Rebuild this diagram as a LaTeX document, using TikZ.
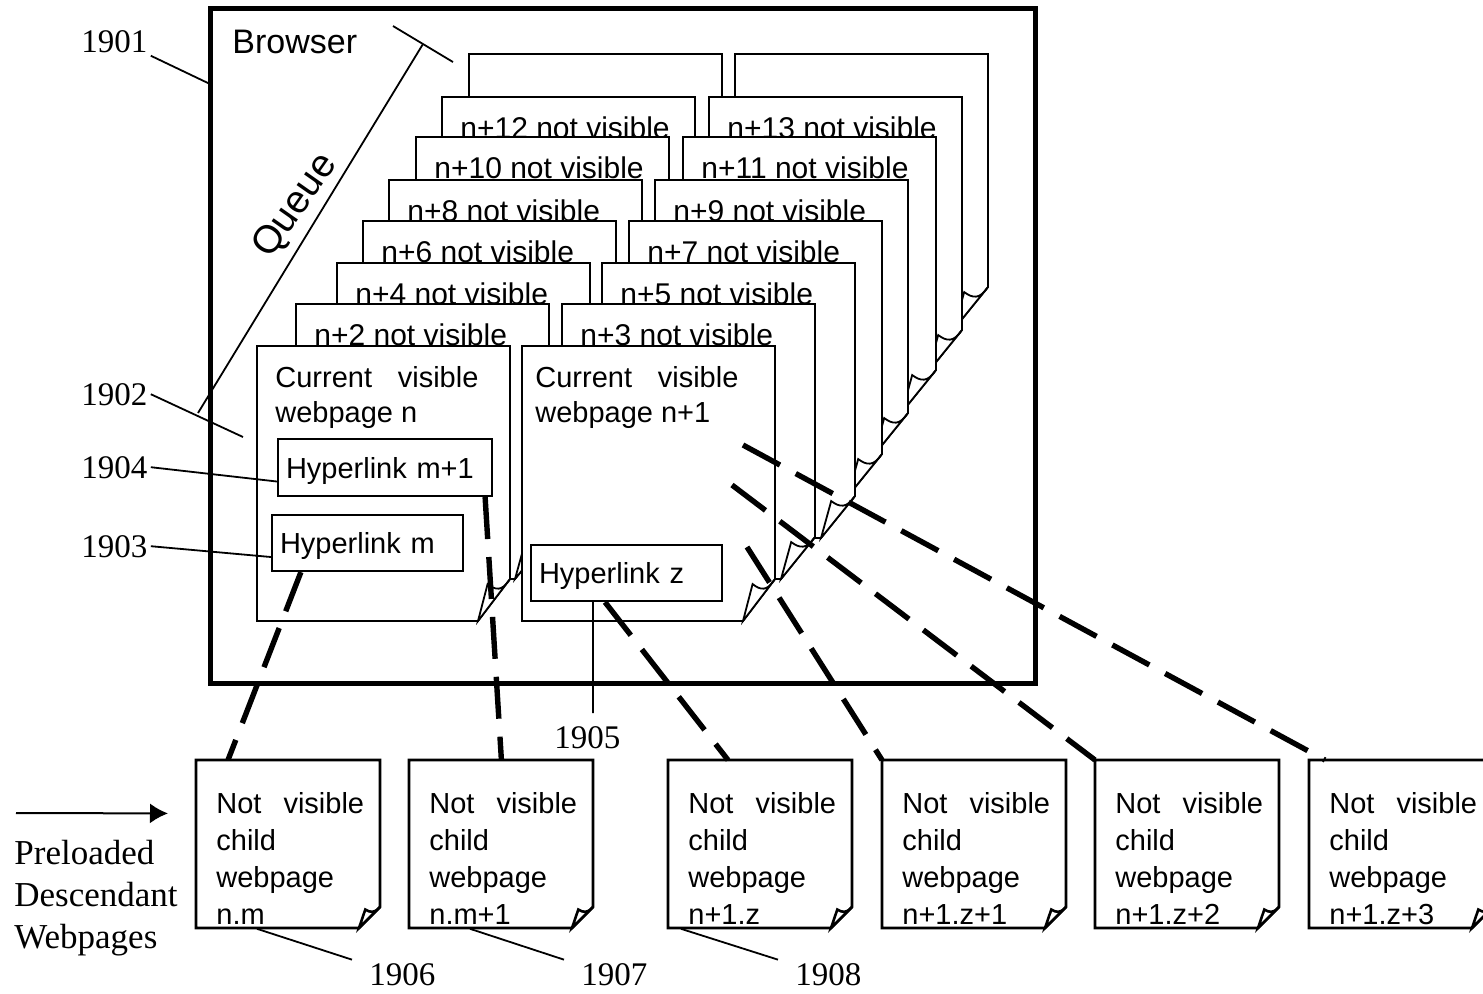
\documentclass[tikz,border=0pt]{standalone}
\usepackage{fontspec}
\setmainfont{Liberation Sans}
\newfontfamily\serifnum{Liberation Serif}
\usetikzlibrary{arrows.meta}

% page outline with curled corner: [style] left, top, width, height, fold x, fold y
\newcommand{\docpage}[7][]{%
  \filldraw[pageline,#1] (#2,#3) -- (#2+#4,#3) -- (#2+#4,#3+#5-#7)
    -- (#2+#4-#6,#3+#5) -- (#2,#3+#5) -- cycle;
  \filldraw[pageline,#1] (#2+#4,#3+#5-#7)
    .. controls +(-0.25*#6,0.3*#7) and +(0.25*#6,0.15*#7) .. (#2+#4-0.7*#6,#3+#5-0.88*#7)
    -- (#2+#4-#6,#3+#5) -- cycle;}

% child webpage: name, left, text
\newcommand{\childpage}[3]{%
  \node[childbox] (#1) at (#2,760) {};
  \docpage[line width=1.3pt]{#2}{760}{184}{168}{21}{21}
  \node[bodytext,font=\fontsize{14.5}{18.5}\selectfont] (#1 text) at (#2+20,792) {#3};}

\begin{document}
\begin{tikzpicture}[x=0.5pt,y=-0.5pt,
  pageline/.style={draw,fill=white,line width=0.9pt},
  pagetext/.style={anchor=base west,inner sep=0pt,font=\fontsize{15}{18}\selectfont},
  bodytext/.style={anchor=north west,inner sep=0pt,align=left},
  linkbox/.style={draw,line width=1.1pt,minimum height=28pt,inner xsep=4pt,
    text depth=0pt,align=left,font=\fontsize{14.5}{17}\selectfont},
  childbox/.style={anchor=north west,minimum width=92pt,minimum height=84pt,inner sep=0pt},
  numlabel/.style={anchor=base west,inner sep=1.5pt,font=\serifnum\fontsize{16.5}{20}\selectfont},
  leader/.style={line width=0.9pt},
  childlink/.style={line width=2.7pt,dash pattern=on 21pt off 9pt},
  ]
\useasboundingbox (0,0) rectangle (1483,993);

% Browser window
\node[draw,line width=2.5pt,anchor=north west,outer sep=0pt,inner sep=0pt,
  minimum width=412.5pt,minimum height=337.5pt] (browser) at (210,8) {};
\node[anchor=base west,inner sep=0pt,font=\fontsize{17}{20}\selectfont]
  (browser label) at (232,53) {Browser};

% Queue bracket
\coordinate (queue low) at (198,413);
\coordinate (queue high) at (423,44);
\draw[leader] (queue low) -- (queue high);
\draw[leader] (393,26) -- (453,62);
\node[rotate=55,anchor=base,inner sep=0pt,font=\fontsize{19.5}{23}\selectfont]
  (queue label) at (304,212) {Queue};

% Queued pages (back to front)
\docpage{469}{54}{253}{275}{34}{42}
\docpage{735}{54}{253}{275}{34}{42}
\foreach \lx/\rgx/\ty/\lnum/\rnum in {442/709/97/12/13,416/683/137/10/11,
    389/655/180/8/9,363/629/221/6/7,337/602/263/4/5,296/562/304/2/3}{
  \docpage{\lx}{\ty}{253}{275}{34}{42}
  \node[pagetext] (queue \lnum) at (\lx+18,\ty+41) {n+\lnum\ not visible};
  \docpage{\rgx}{\ty}{253}{275}{34}{42}
  \node[pagetext] (queue \rnum) at (\rgx+18,\ty+41) {n+\rnum\ not visible};
}

% Current visible pages
\docpage{257}{346}{253}{275}{32}{42}
\node[bodytext,font=\fontsize{14.5}{17.5}\selectfont] (page n) at (275,366)
  {Current\hspace{0.89em}visible\\webpage n};
\docpage{522}{346}{253}{275}{32}{42}
\node[bodytext,font=\fontsize{14.5}{17.5}\selectfont] (page n1) at (535,366)
  {Current\hspace{0.89em}visible\\webpage n+1};

% Hyperlinks
\node[linkbox,text width=99pt,minimum height=28.5pt] (hm1) at (385,467.5) {Hyperlink m+1};
\node[linkbox,text width=87.5pt] (hm) at (367.5,543) {Hyperlink m};
\node[linkbox,text width=87.5pt] (hz) at (626.5,573) {Hyperlink z};
\coordinate (link z1) at (747,547);
\coordinate (link z2) at (732,485);
\coordinate (link z3) at (743,445);
\coordinate (page n tag) at (243,437);

% Preloaded child pages
\childpage{c1}{196}{Not\hspace{0.76em}visible\\child\\webpage\\n.m}
\childpage{c2}{409}{Not\hspace{0.76em}visible\\child\\webpage\\n.m+1}
\childpage{c3}{668}{Not\hspace{0.76em}visible\\child\\webpage\\n+1.z}
\childpage{c4}{882}{Not\hspace{0.76em}visible\\child\\webpage\\n+1.z+1}
\childpage{c5}{1095}{Not\hspace{0.76em}visible\\child\\webpage\\n+1.z+2}
\childpage{c6}{1309}{Not\hspace{0.76em}visible\\child\\webpage\\n+1.z+3}

\node[bodytext,font=\serifnum\fontsize{17.5}{21}\selectfont] (preloaded) at (14,840)
  {Preloaded\\Descendant\\Webpages};
\coordinate (arrow tail) at (16,813);
\draw[line width=1pt,-{Latex[length=9pt,width=10pt]}] (arrow tail)
  -- ([xshift=-14pt,yshift=15.5pt]c1.west);

% Reference numerals
\node[numlabel] (l1901) at (78,52) {1901};
\node[numlabel] (l1902) at (78,405) {1902};
\node[numlabel] (l1904) at (78,478) {1904};
\node[numlabel] (l1903) at (78,557) {1903};
\node[numlabel] (l1905) at (551,748) {1905};
\node[numlabel] (l1906) at (366,985) {1906};
\node[numlabel] (l1907) at (578,985) {1907};
\node[numlabel] (l1908) at (792,985) {1908};

\draw[leader]
  (l1901.south east) -- ([yshift=-38pt]browser.north west)
  (l1902.east) -- (page n tag)
  (l1904.east) -- ([yshift=-7pt]hm1.west)
  (l1903.east) -- ([yshift=-7pt]hm.west)
  ([xshift=-16.75pt]hz.south) -- ++(0,111)
  ([xshift=30.5pt]c1.south west) -- ([xshift=-7pt]l1906.north west)
  ([xshift=30.5pt]c2.south west) -- ([xshift=-7pt]l1907.north west)
  ([xshift=6.5pt]c3.south west) -- ([xshift=-7pt]l1908.north west);

% Preload links
\draw[childlink] ([xshift=15pt]hm.south west) -- ([xshift=16pt]c1.north west);
\draw[childlink] ([xshift=-4pt]hm1.south east) -- (c2.north);
\draw[childlink] ([xshift=-10.75pt]hz.south) -- ([xshift=30pt]c3.north west);
\draw[childlink] (link z1) -- (c4.north west);
\draw[childlink] (link z2) -- (c5.north west);
\draw[childlink] (link z3) -- ([xshift=8pt]c6.north west);

\end{tikzpicture}
\end{document}
